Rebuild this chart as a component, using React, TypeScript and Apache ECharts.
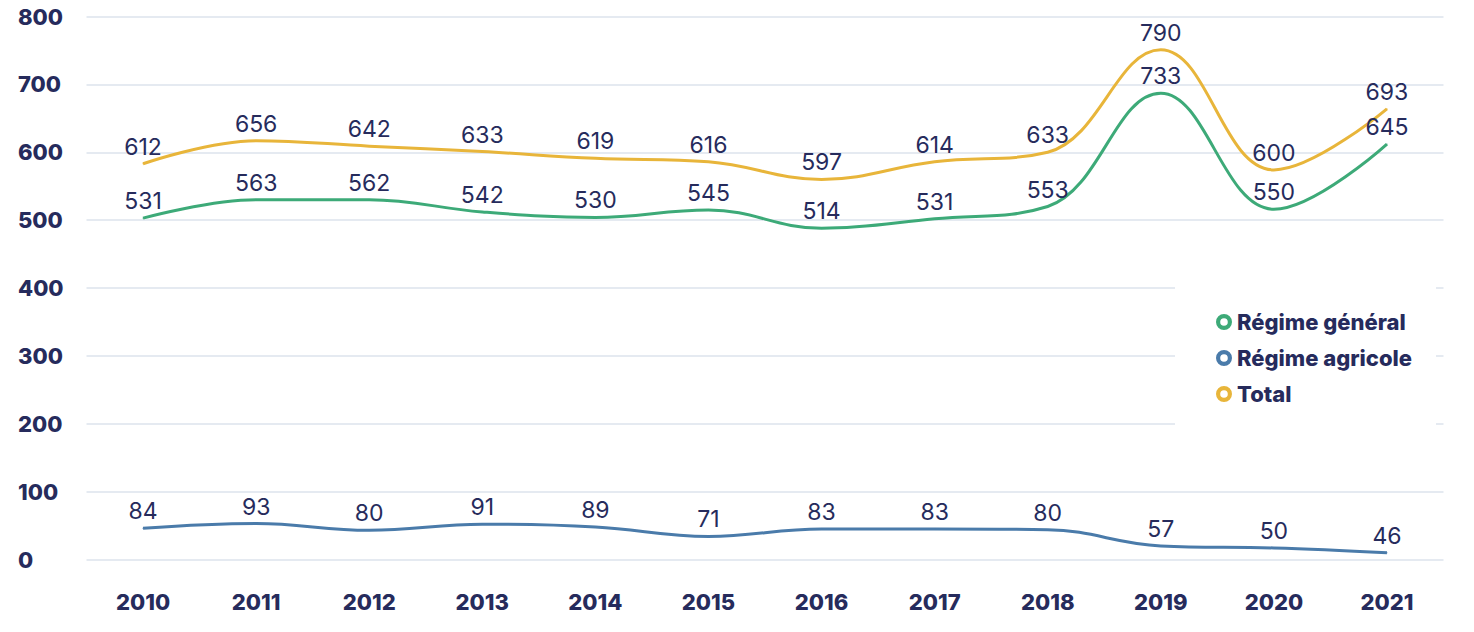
import React, { useEffect, useRef } from "react";
import * as echarts from "echarts";

// Categories
const years = ["2010", "2011", "2012", "2013", "2014", "2015", "2016", "2017", "2018", "2019", "2020", "2021"];

// Plotted line positions
const generalValues = [503, 530, 530, 512, 504, 515, 488, 502, 520, 687, 516, 612];
const agricoleValues = [46, 53, 43, 52, 48, 34, 45, 45, 44, 20, 17, 10];
const totalValues = [583, 617, 609, 601, 591, 586, 560, 586, 600, 751, 574, 664];

// Printed value labels
const generalLabels = [531, 563, 562, 542, 530, 545, 514, 531, 553, 733, 550, 645];
const agricoleLabels = [84, 93, 80, 91, 89, 71, 83, 83, 80, 57, 50, 46];
const totalLabels = [612, 656, 642, 633, 619, 616, 597, 614, 633, 790, 600, 693];

// Y axis
const yMin = 0;
const yMax = 800;
const yStep = 100;

const seriesNames = ["Régime général", "Régime agricole", "Total"];

const NAVY = "#262b5c";
const FONT = "Inter, 'Open Sans', sans-serif";
const COLORS = ["#3DAA78", "#4A7BAA", "#E8B53A"];
const RING = "path://M8,0A8,8,0,1,1,8,16A8,8,0,1,1,8,0ZM8,4.2A3.8,3.8,0,1,0,8,11.8A3.8,3.8,0,1,0,8,4.2Z";

function makeSeries(name: string, values: number[], labels: number[], color: string) {
  return {
    name,
    type: "line",
    data: values,
    smooth: 0.4,
    symbol: "circle",
    symbolSize: 1,
    showSymbol: true,
    lineStyle: { color, width: 3 },
    itemStyle: { color },
    label: {
      show: true,
      position: "top",
      distance: 5,
      fontFamily: FONT,
      fontSize: 23,
      color: NAVY,
      formatter: (p: any) => String(labels[p.dataIndex]),
    },
    emphasis: { disabled: true },
  };
}

export default function App() {
  const ref = useRef<HTMLDivElement>(null);

  useEffect(() => {
    document.body.style.margin = "0";
    const chart = echarts.init(ref.current!, undefined, { renderer: "svg" });
    chart.setOption({
      animation: false,
      backgroundColor: "#ffffff",
      textStyle: { fontFamily: FONT },
      grid: { left: 86.5, right: 30.5, top: 16.5, bottom: 72.5, containLabel: false },
      xAxis: {
        type: "category",
        data: years,
        boundaryGap: true,
        axisLine: { show: false },
        axisTick: { show: false },
        splitLine: { show: false },
        axisLabel: {
          margin: 31,
          fontFamily: FONT,
          fontSize: 22,
          fontWeight: 800,
          color: NAVY,
        },
      },
      yAxis: {
        type: "value",
        min: yMin,
        max: yMax,
        interval: yStep,
        axisLine: { show: false },
        axisTick: { show: false },
        splitLine: { show: true, lineStyle: { color: "#dde3ec", width: 1.5 } },
        axisLabel: {
          align: "left",
          margin: 68.5,
          fontFamily: FONT,
          fontSize: 22,
          fontWeight: 800,
          color: NAVY,
        },
      },
      legend: {
        orient: "vertical",
        left: 1175,
        top: 249,
        padding: [62, 24, 60, 41],
        backgroundColor: "#ffffff",
        itemWidth: 16,
        itemHeight: 16,
        itemGap: 14,
        icon: RING,
        data: seriesNames,
        textStyle: { fontFamily: FONT, fontSize: 22, fontWeight: 800, color: NAVY },
      },
      series: [
        makeSeries(seriesNames[0], generalValues, generalLabels, COLORS[0]),
        makeSeries(seriesNames[1], agricoleValues, agricoleLabels, COLORS[1]),
        makeSeries(seriesNames[2], totalValues, totalLabels, COLORS[2]),
      ],
    });
    return () => chart.dispose();
  }, []);

  return (
    <div
      ref={ref}
      style={{ position: "absolute", left: 0, top: 0, width: 1474, height: 632 }}
    />
  );
}
